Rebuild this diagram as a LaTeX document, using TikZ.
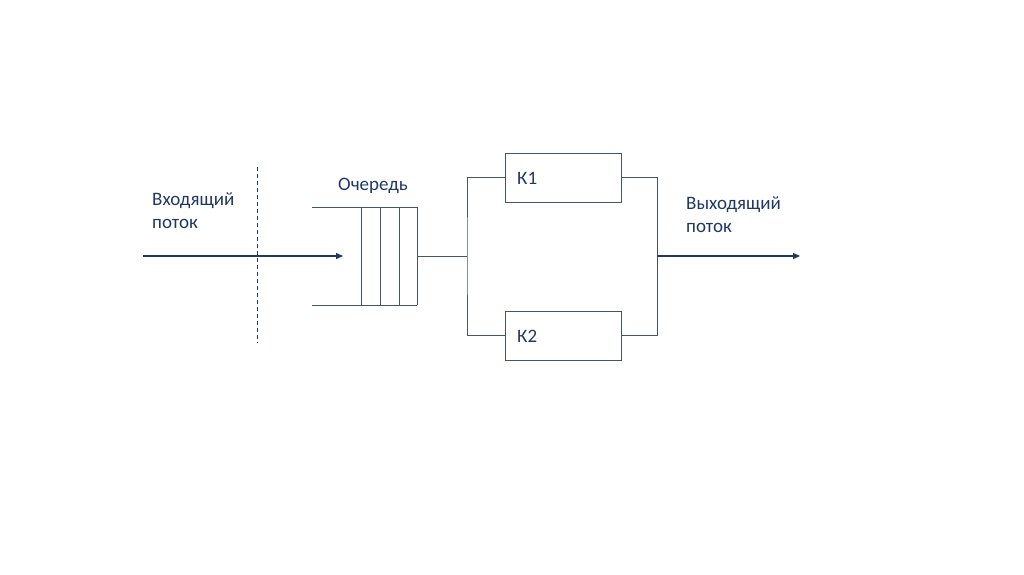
\documentclass[tikz,border=0pt]{standalone}
\usepackage{fontspec}
\setmainfont{Carlito}
\usetikzlibrary{arrows.meta}
\definecolor{navy}{HTML}{1F3864}
\definecolor{slate}{HTML}{44546A}
\definecolor{txt}{HTML}{203864}
\begin{document}
\begin{tikzpicture}[x=1pt,y=-1pt,
  thin line/.style={draw=slate, line width=0.8pt},
  flow/.style={draw=navy, line width=1.3pt, -{Triangle[length=7pt,width=6pt]}},
  chan/.style={draw=slate, line width=0.8pt, minimum width=116pt, minimum height=49pt, inner sep=0pt},
  lbl/.style={text=txt, font=\fontsize{19}{23}\selectfont, inner sep=0pt, anchor=base west, align=left}]
\useasboundingbox (0,0) rectangle (1024,574);
% labels
\node[lbl] (in1) at (152,205) {Входящий};
\node[lbl] (in2) at (152,228) {поток};
\node[lbl, anchor=base] (q) at (373,190) {Очередь};
\node[lbl] (out1) at (686,209) {Выходящий};
\node[lbl] (out2) at (686,232) {поток};
% channels
\node[chan] (k1) at (563,177.5) {};
\node[chan] (k2) at (563,335.5) {};
\node[lbl] at (517,184) {К1};
\node[lbl] at (517,342) {К2};
% queue
\coordinate (qtl) at (312,207);
\coordinate (qtr) at (417,207);
\coordinate (qbl) at (312,305);
\coordinate (qbr) at (417,305);
\draw[thin line] (qtl) -- (qtr);
\draw[thin line] (qbl) -- (qbr);
\foreach \x in {361,380,399,417} \draw[thin line] (\x,207) -- (\x,305);
\coordinate (qout) at (417,256);
% dashed boundary
\coordinate (d1) at (257,167);
\coordinate (d2) at (257,343);
\draw[navy, line width=1pt, dash pattern=on 4pt off 3pt] (d1) -- (d2);
% incoming
\coordinate (src) at (143,256);
\coordinate (qin) at (343,256);
\draw[flow] (src) -- (qin);
% split
\coordinate (sp) at (467,256);
\draw[thin line] (qout) -- (sp);
\draw[thin line] (k1.west) -| (sp) |- (k2.west);
% join
\coordinate (jn) at (657,256);
\draw[thin line] (k1.east) -| (jn) |- (k2.east);
\coordinate (sink) at (800,256);
\draw[flow] (jn) -- (sink);
\end{tikzpicture}
\end{document}
